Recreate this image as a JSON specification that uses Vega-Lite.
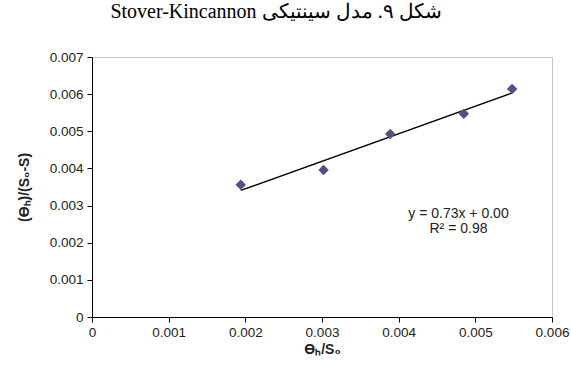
{
  "$schema": "https://vega.github.io/schema/vega-lite/v6.json",
  "autosize": {"type": "none"},
  "width": 460,
  "height": 260,
  "padding": {"left": 92, "top": 57, "right": 19, "bottom": 48},
  "background": "white",
  "config": {
    "view": {"stroke": "#c8c8c8", "strokeWidth": 1},
    "axis": {
      "grid": false,
      "domainColor": "#000",
      "tickColor": "#000",
      "tickSize": 5,
      "labelFont": "Liberation Sans",
      "labelFontSize": 13.5,
      "labelColor": "#222",
      "labelOverlap": false,
      "titleFont": "Liberation Sans",
      "titleFontSize": 14,
      "titleFontWeight": "bold",
      "titleColor": "#222"
    }
  },
  "title": {
    "text": "Stover-Kincannon شکل ۹. مدل سینتیکی",
    "font": "Liberation Serif",
    "fontSize": 20,
    "fontWeight": "normal",
    "color": "#000",
    "anchor": "middle",
    "offset": 28,
    "dx": -46
  },
  "data": {
    "values": [
      {"x": 0.00194, "y": 0.00356},
      {"x": 0.00302, "y": 0.00396},
      {"x": 0.00389, "y": 0.00493},
      {"x": 0.00485, "y": 0.00547},
      {"x": 0.00548, "y": 0.00614}
    ]
  },
  "encoding": {
    "x": {
      "field": "x", "type": "quantitative",
      "scale": {"domain": [0, 0.006], "nice": false},
      "axis": {"title": "ϴₕ/S₀", "values": [0, 0.001, 0.002, 0.003, 0.004, 0.005, 0.006], "format": "~g", "labelPadding": 3, "titlePadding": 4, "labelFlush": false, "labelOverlap": false}
    },
    "y": {
      "field": "y", "type": "quantitative",
      "scale": {"domain": [0, 0.007], "nice": false},
      "axis": {"title": "(ϴₕ)/(S₀-S)", "values": [0, 0.001, 0.002, 0.003, 0.004, 0.005, 0.006, 0.007], "format": "~g", "labelPadding": 4, "titlePadding": 18, "labelOverlap": false, "labelFlush": false}
    }
  },
  "layer": [
    {
      "transform": [{"regression": "y", "on": "x"}],
      "mark": {"type": "line", "color": "#000", "strokeWidth": 1.3}
    },
    {
      "mark": {"type": "point", "shape": "diamond", "filled": true, "color": "#5e4a86", "size": 110, "opacity": 1}
    },
    {
      "data": {"values": [
        {"x": 0.00478, "y": 0.00278, "label": "y = 0.73x + 0.00"},
        {"x": 0.00478, "y": 0.00238, "label": "R² = 0.98"}
      ]},
      "mark": {"type": "text", "font": "Liberation Sans", "fontSize": 14, "color": "#222", "align": "center", "baseline": "middle"},
      "encoding": {
        "text": {"field": "label"}
      }
    }
  ]
}
